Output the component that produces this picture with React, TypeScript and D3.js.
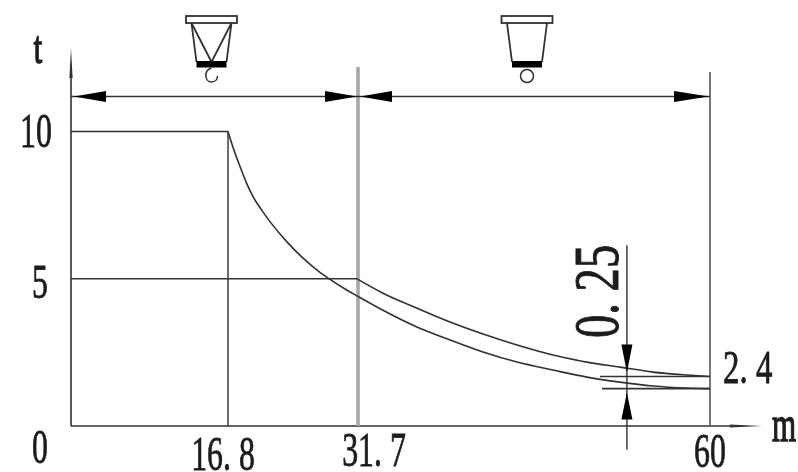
import * as d3 from 'd3';

// Load curve of the crane: t against m. The drawing is not to scale on x, so the
// x scale is piecewise through the labelled stations.
const stations = [0, 16.8, 31.7, 60];
const stationLabels = ['16. 8', '31. 7', '60'];
const yTicks = [0, 5, 10];

const lowerM = [16.8, 17.41, 18.18, 18.94, 19.7, 20.66, 21.61, 23.53, 25.43, 27.34, 28.49, 30.4, 31.7, 33.71, 36.44, 39.1, 41.75, 44.48, 47.38, 50.11, 52.76, 55.42, 58.15, 60];
const lowerT = [10, 9.43, 8.81, 8.24, 7.77, 7.33, 6.94, 6.26, 5.69, 5.22, 4.98, 4.62, 4.4, 3.93, 3.36, 2.92, 2.51, 2.17, 1.9, 1.66, 1.49, 1.36, 1.29, 1.27];
const upperM = [31.7, 33.71, 36.44, 39.1, 41.75, 44.48, 47.38, 50.11, 52.76, 55.42, 58.15, 60];
const upperT = [4.98, 4.51, 4.0, 3.53, 3.12, 2.75, 2.41, 2.17, 2.0, 1.83, 1.73, 1.68];

const plateauT = [10, 5];
const plateauEndM = [16.8, 31.7];
const tailStartM = [51.15, 51.32];
const tailT = [1.68, 1.27];
const spanT = 11.19;
const dimM = 53.32;
const dimRange = [6.14, -0.81];

const x = d3.scaleLinear().domain(stations).range([71, 228, 358, 710]);
const y = d3.scaleLinear().domain([0, 10]).range([426, 131.5]);

const INK = '#303030';
const TEXT = '#1c1c1c';
const FONT = "'Liberation Serif', serif";

const curve = d3
    .line<number>()
    .x((m) => x(m))
    .curve(d3.curveMonotoneX);

const pathOf = (ms: number[], ts: number[]) => curve.y((_, i) => y(ts[i]))(ms) ?? '';

// Filled arrowhead, tip at (tx, ty), pointing along (dx, dy)
const head = (tx: number, ty: number, dx: number, dy: number, len: number, half: number) => {
    const bx = tx - dx * len;
    const by = ty - dy * len;
    return `M${tx},${ty}L${bx - dy * half},${by - dx * half}L${bx + dy * half},${by + dx * half}Z`;
};

function Label({ text, px, py, sx = 0.65, size = 49, anchor = 'middle', rotate = 0, heavy = 0.8 }: {
    text: string; px: number; py: number; sx?: number; size?: number; anchor?: string; rotate?: number; heavy?: number;
}) {
    return (
        <text
            transform={`translate(${px},${py}) rotate(${rotate}) scale(${sx},1)`}
            textAnchor={anchor}
            fontFamily={FONT}
            fontSize={size}
            fill={TEXT}
            stroke={TEXT}
            strokeWidth={heavy}
        >
            {text}
        </text>
    );
}

function Trolley({ cx, braced }: { cx: number; braced: boolean }) {
    return (
        <g transform={`translate(${cx},16)`} fill="none" stroke={INK} strokeWidth={1.8}>
            <rect x={-25.5} y={0} width={51} height={7} fill="#fff" />
            <path d="M-20,7L-15,46M20,7L15,46" />
            {braced && <path d="M-20,7L0,46L20,7" />}
            <rect x={-15} y={45} width={30} height={6.5} fill="#000" stroke="none" />
            {braced ? (
                <path d="M0,52C-8,54 -7,66 0,66C4,66 6,63 6,60" strokeWidth={1.5} />
            ) : (
                <circle cx={0} cy={60} r={6.5} strokeWidth={1.5} />
            )}
        </g>
    );
}

export default function App() {
    const axisX = x(0);
    const axisY = y(0);
    const spanY = y(spanT);
    const dimX = x(dimM);

    return (
        <svg width={798} height={472} style={{ position: 'absolute', left: 0, top: 0, background: '#fff' }}>
            <defs>
                <filter id="soft" x="-2%" y="-2%" width="104%" height="104%">
                    <feGaussianBlur stdDeviation={0.45} />
                </filter>
            </defs>
            <g filter="url(#soft)">
                <Trolley cx={211.5} braced />
                <Trolley cx={527} braced={false} />

                {/* axes */}
                <g stroke={INK} fill="none" strokeWidth={1.6}>
                    <path d={`M${axisX},${axisY}V72`} />
                    <path d={`M${axisX},${axisY}H735`} />
                </g>
                <path d={head(axisX, 48, 0, -1, 30, 1.6)} fill={INK} />
                <path d={head(762, axisY, 1, 0, 32, 1.6)} fill={INK} />

                {/* stations */}
                <line x1={x(16.8)} x2={x(16.8)} y1={y(10)} y2={axisY} stroke={INK} strokeWidth={1.4} />
                <line x1={x(31.7)} x2={x(31.7)} y1={67} y2={axisY} stroke="#a8a8a8" strokeWidth={3.6} />
                <line x1={x(60)} x2={x(60)} y1={72} y2={axisY} stroke="#555" strokeWidth={1.6} />

                {/* span dimension */}
                <line x1={axisX} x2={x(60)} y1={spanY} y2={spanY} stroke={INK} strokeWidth={1.6} />
                <path d={head(74, spanY, -1, 0, 32, 5.5)} fill="#000" />
                <path d={head(357, spanY, 1, 0, 32, 5.5)} fill="#000" />
                <path d={head(360, spanY, -1, 0, 32, 5.5)} fill="#000" />
                <path d={head(709, spanY, 1, 0, 35, 5.5)} fill="#000" />

                {/* load curves */}
                <g stroke={INK} fill="none" strokeWidth={1.6}>
                    {plateauT.map((t, i) => (
                        <line key={t} x1={axisX} x2={x(plateauEndM[i])} y1={y(t)} y2={y(t)} />
                    ))}
                    <path d={pathOf(lowerM, lowerT)} />
                    <path d={pathOf(upperM, upperT)} />
                    {tailT.map((t, i) => (
                        <line key={t} x1={x(tailStartM[i])} x2={x(60)} y1={y(t)} y2={y(t)} />
                    ))}
                </g>

                {/* 0.25 dimension */}
                <line x1={dimX} x2={dimX} y1={y(dimRange[0])} y2={y(dimRange[1])} stroke={INK} strokeWidth={1.4} />
                <path d={head(dimX, y(tailT[0]) - 4, 0, 1, 28, 5.5)} fill="#000" />
                <path d={head(dimX, y(tailT[1]) + 4, 0, -1, 27, 5.5)} fill="#000" />

                {/* text */}
                <Label text="t" px={38} py={63} size={46} heavy={1.6} />
                {yTicks.map((t) => (
                    <Label key={t} text={String(t)} px={t === 10 ? 36 : 40} py={y(t) + (t === 0 ? 37 : t === 5 ? 19 : 15.5)} />
                ))}
                <Label text={stationLabels[0]} px={223} py={470} />
                <Label text={stationLabels[1]} px={374} py={466} />
                <Label text={stationLabels[2]} px={710} py={467} />
                <Label text="2. 4" px={723} py={383} anchor="start" sx={0.7} size={47} />
                <Label text="0. 25" px={618} py={338} anchor="start" sx={0.74} size={63} rotate={-90} heavy={1} />
                <Label text="m" px={784} py={441} size={50} sx={0.62} heavy={1.4} />
            </g>
        </svg>
    );
}
